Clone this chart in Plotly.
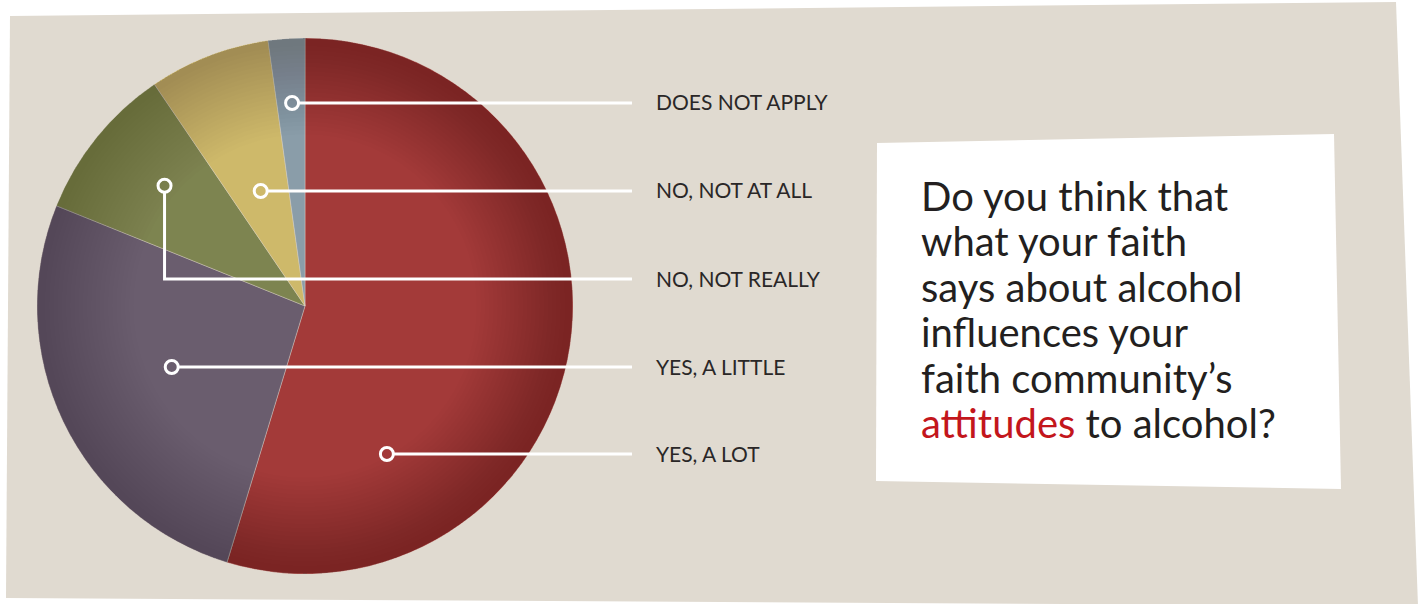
import math
import plotly.graph_objects as go

W, H = 1424, 604

# Survey answers, clockwise from 12 o'clock
answers = ["YES, A LOT", "YES, A LITTLE", "NO, NOT REALLY", "NO, NOT AT ALL", "DOES NOT APPLY"]
shares = [54.7, 26.4, 9.4, 7.3, 2.2]
slice_colors = ["#A33A39", "#6A5D6E", "#7D8450", "#CEB96A", "#8A9DA9"]

# Where each leader line touches its slice: (fraction through the slice, fraction of radius)
leader_anchor = [(0.767, 0.631), (0.51, 0.547), (0.55, 0.69), (0.5, 0.46), (0.54, 0.759)]
# Row (pixel y) of each label on the right
label_rows = [454, 367, 279, 191, 103]

question_lines = [
    "Do you think that",
    "what your faith",
    "says about alcohol",
    "influences your",
    "faith community\u2019s",
    "<span style='color:#C3161C'>attitudes</span> to alcohol?",
]

BEIGE = "#E0DAD0"
INK = "#231F20"

# pie placement in pixels
PIE_L, PIE_R, PIE_T, PIE_B = 37, 573, 38, 574
CX, CY = (PIE_L + PIE_R) / 2, (PIE_T + PIE_B) / 2
RAD = (PIE_R - PIE_L) / 2


def px(x):
    return x / W


def py(y):
    return 1 - y / H


def poly(points):
    return "M " + " L ".join(f"{px(x):.5f},{py(y):.5f}" for x, y in points) + " Z"


pie_domain = dict(x=[px(PIE_L), px(PIE_R)], y=[py(PIE_B), py(PIE_T)])

fig = go.Figure()

fig.add_trace(go.Pie(
    labels=answers, values=shares, sort=False, direction="clockwise", rotation=0,
    marker=dict(colors=slice_colors, line=dict(color="rgba(225,215,205,0.55)", width=0.7)),
    textinfo="none", hoverinfo="label+percent", showlegend=False, domain=pie_domain,
))

# soft darkening toward the rim, built from thin translucent rings
n_rings = 22
for i in range(n_rings):
    hole = 0.64 + i * (0.985 - 0.64) / n_rings
    fig.add_trace(go.Pie(
        values=[1], labels=[f"r{i}"], hole=hole, sort=False,
        marker=dict(colors=["rgba(45,10,15,0.0072)"], line=dict(width=0)),
        textinfo="none", hoverinfo="skip", showlegend=False, domain=pie_domain,
    ))

shapes = []
# beige card behind everything
shapes.append(dict(type="path", path=poly([(10, 16), (1396, 2), (1418, 606), (6, 598)]),
                   xref="paper", yref="paper", fillcolor=BEIGE, line=dict(width=0), layer="below"))
# white question panel
shapes.append(dict(type="path", path=poly([(877, 143), (1334, 134), (1341, 489), (876, 481)]),
                   xref="paper", yref="paper", fillcolor="white", line=dict(width=0), layer="below"))

annotations = []
total = sum(shares)
start = 0.0
LINE_END = 632
RING_R = 6.5
for ans, val, (frac, rf), row in zip(answers, shares, leader_anchor, label_rows):
    theta = math.radians(360 * (start + frac * val) / total)
    start += val
    ax = CX + rf * RAD * math.sin(theta)
    ay = CY - rf * RAD * math.cos(theta)
    # leader line (with an elbow when the anchor sits off the label row)
    if abs(ay - row) > 3:
        pts = [(ax, ay + RING_R), (ax, row), (LINE_END, row)]
    else:
        pts = [(ax + RING_R, row), (LINE_END, row)]
    path = "M " + " L ".join(f"{px(x):.5f},{py(y):.5f}" for x, y in pts)
    shapes.append(dict(type="path", path=path, xref="paper", yref="paper",
                       line=dict(color="white", width=3), layer="above"))
    cy_ring = ay if abs(ay - row) > 3 else row
    shapes.append(dict(type="circle", xref="paper", yref="paper",
                       x0=px(ax - RING_R), x1=px(ax + RING_R),
                       y0=py(cy_ring + RING_R), y1=py(cy_ring - RING_R),
                       line=dict(color="white", width=3), fillcolor="rgba(0,0,0,0)", layer="above"))
    annotations.append(dict(text=ans, x=px(654), y=py(row - 1), xref="paper", yref="paper",
                            xanchor="left", yanchor="middle", showarrow=False,
                            font=dict(family="Lato", size=21, color="#2A2727")))

for i, line in enumerate(question_lines):
    annotations.append(dict(text=line, x=px(919), y=py(196 + i * 45.4), xref="paper", yref="paper",
                            xanchor="left", yanchor="middle", showarrow=False,
                            font=dict(family="Lato", size=40, color=INK)))

fig.update_layout(
    width=W, height=H, margin=dict(l=0, r=0, t=0, b=0),
    paper_bgcolor="white", plot_bgcolor="white",
    shapes=shapes, annotations=annotations,
)

fig.write_html("out.html")
